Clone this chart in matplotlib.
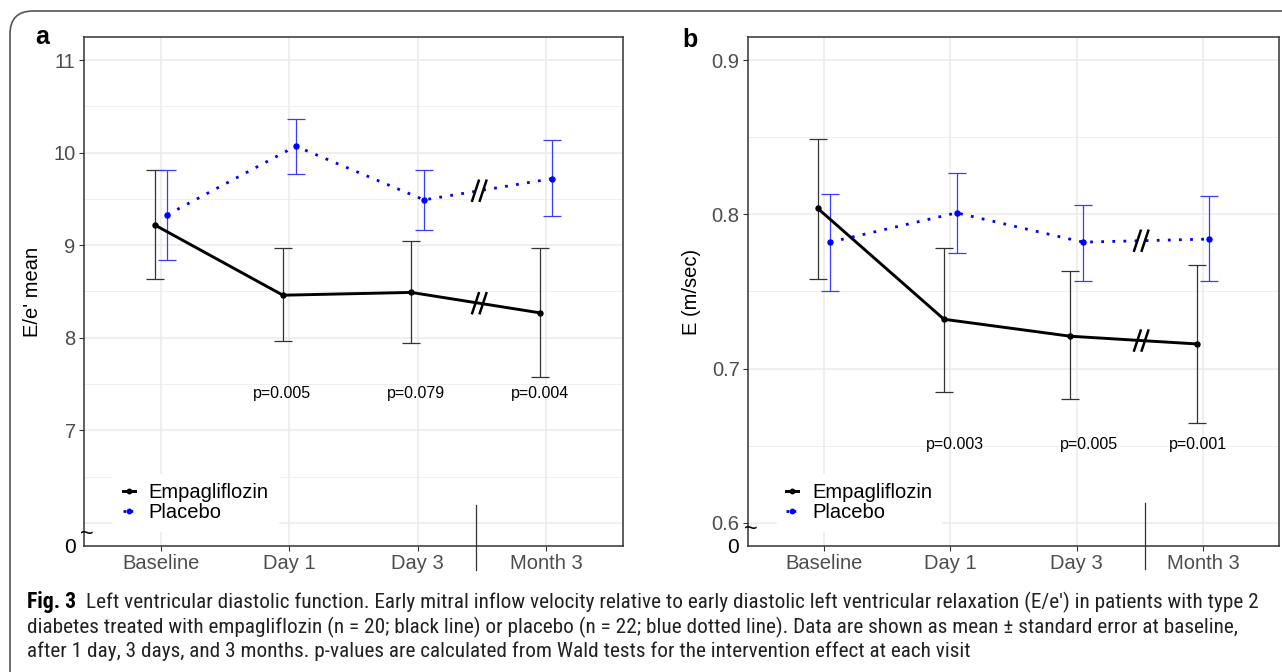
import matplotlib
matplotlib.use('Agg')
import matplotlib.pyplot as plt
import matplotlib.transforms as mtrans
from matplotlib import font_manager as fm
from matplotlib.lines import Line2D
from matplotlib.patches import FancyBboxPatch
import numpy as np

# ---------------- data ----------------
categories = ['Baseline', 'Day 1', 'Day 3', 'Month 3']

ee_empa_mean = [9.22, 8.46, 8.49, 8.27]
ee_empa_lo = [8.64, 7.96, 7.94, 7.58]
ee_empa_hi = [9.81, 8.97, 9.05, 8.97]
ee_plac_mean = [9.33, 10.07, 9.49, 9.72]
ee_plac_lo = [8.84, 9.77, 9.16, 9.32]
ee_plac_hi = [9.81, 10.36, 9.81, 10.14]
ee_pvalues = ['p=0.005', 'p=0.079', 'p=0.004']
ee_p_x = [1.94, 2.99, 3.95]
ee_p_y = 7.40
ee_ytick_vals = [7, 8, 9, 10, 11]
ee_ytick_labels = ['7', '8', '9', '10', '11']

e_empa_mean = [0.804, 0.732, 0.721, 0.716]
e_empa_lo = [0.758, 0.685, 0.680, 0.665]
e_empa_hi = [0.849, 0.778, 0.763, 0.767]
e_plac_mean = [0.782, 0.801, 0.782, 0.784]
e_plac_lo = [0.750, 0.775, 0.757, 0.757]
e_plac_hi = [0.813, 0.827, 0.806, 0.812]
e_pvalues = ['p=0.003', 'p=0.005', 'p=0.001']
e_p_x = [2.04, 3.10, 3.96]
e_p_y = 0.651
e_ytick_vals = [0.6, 0.7, 0.8, 0.9]
e_ytick_labels = ['0.6', '0.7', '0.8', '0.9']

series_names = ['Empagliflozin', 'Placebo']

caption_bold = 'Fig. 3'
caption_lines = [
    'Left ventricular diastolic function. Early mitral inflow velocity relative to early diastolic left ventricular relaxation (E/e\u2032) in patients with type 2',
    'diabetes treated with empagliflozin (n = 20; black line) or placebo (n = 22; blue dotted line). Data are shown as mean \u00b1 standard error at baseline,',
    'after 1 day, 3 days, and 3 months. p-values are calculated from Wald tests for the intervention effect at each visit',
]

# ---------------- style ----------------
W, H = 1282, 672
DPI = 100
plt.rcParams['font.family'] = ['Liberation Sans', 'DejaVu Sans']
fig = plt.figure(figsize=(W / DPI, H / DPI), dpi=DPI)
fig.patch.set_facecolor('white')

GRID = '#ebebeb'
TICKC = '#4d4d4d'
BLUE = '#0000ff'
EBLUE = '#3b3bff'
EGRAY = '#333333'
DODGE = 0.05


def px_axes(left, right, top, bottom):
    return [left / W, (H - bottom) / H, (right - left) / W, (bottom - top) / H]


def pick_condensed(bold):
    prefs = ['liberationsansnarrow', 'robotocondensed', 'opensanscondensed',
             'opensans_condensed', 'notosans-condensed', 'notosanscondensed',
             'dejavusanscondensed']
    best = None
    for f in fm.fontManager.ttflist:
        fn = f.fname.replace('\\', '/').split('/')[-1].lower()
        key = fn.replace(' ', '')
        if 'italic' in key or 'oblique' in key or 'mono' in key or 'serif' in key:
            continue
        if 'semicondensed' in key or 'extracondensed' in key or 'ultracondensed' in key:
            continue
        for rank, p in enumerate(prefs):
            if key.startswith(p):
                try:
                    w = int(f.weight)
                except Exception:
                    w = 700 if 'bold' in str(f.weight).lower() else 400
                isbold = w >= 600 or 'bold' in key
                if 'light' in key or 'medium' in key or 'black' in key or 'thin' in key:
                    continue
                if isbold != bold:
                    continue
                if best is None or rank < best[0]:
                    best = (rank, f.fname)
    if best is None:
        return fm.FontProperties(family='Liberation Sans',
                                 weight='bold' if bold else 'normal')
    return fm.FontProperties(fname=best[1])


def draw_panel(ax, empa_m, empa_lo, empa_hi, plac_m, plac_lo, plac_hi,
               ylim_core, major, minor, ytick_vals, ytick_labels,
               pvals, p_x, p_y, ylabel, break_x, vline_x, vline_rng,
               tilde_y, zero_x, leg_x):
    x = np.arange(1, len(categories) + 1)
    lo, hi = ylim_core
    pad = (hi - lo) * 0.05
    ax.set_xlim(0.4, 4.6)
    ax.set_ylim(lo - pad, hi + pad)

    for g in minor:
        ax.axhline(g, color=GRID, lw=0.55, zorder=0)
    for g in major:
        ax.axhline(g, color=GRID, lw=1.1, zorder=0)
    for xv in x:
        ax.axvline(xv, color=GRID, lw=1.1, zorder=0)

    xe = x - DODGE
    xp = x + DODGE
    em = np.array(empa_m)
    pm = np.array(plac_m)
    ax.errorbar(xe, em, yerr=[em - np.array(empa_lo), np.array(empa_hi) - em],
                fmt='none', ecolor=EGRAY, elinewidth=0.9, capsize=6.5,
                capthick=0.9, zorder=2)
    ax.errorbar(xp, pm, yerr=[pm - np.array(plac_lo), np.array(plac_hi) - pm],
                fmt='none', ecolor=EBLUE, elinewidth=0.9, capsize=6.5,
                capthick=0.9, zorder=2)
    ax.plot(xe, em, color='black', lw=2.1, marker='o', ms=3.6, zorder=3,
            solid_capstyle='round')
    ax.plot(xp, pm, color=BLUE, lw=2.0, ls=(0, (1, 3)), marker='o', ms=3.6,
            zorder=3)

    # break marks "//" on both lines
    for xs, ys in ((xe, em), (xp, pm)):
        yb = np.interp(break_x, xs[2:4], ys[2:4])
        t = mtrans.ScaledTranslation(break_x, yb, ax.transData)
        for dx in (-3.8, 3.8):
            ln = Line2D([dx - 3.3, dx + 3.3], [-10, 10], color='black', lw=1.8,
                        transform=t, clip_on=False, zorder=5)
            ax.add_line(ln)

    # vertical separator
    bt = mtrans.blended_transform_factory(ax.transData, ax.transAxes)
    ax.add_line(Line2D([vline_x, vline_x], vline_rng, color='#333333', lw=0.9,
                       transform=bt, clip_on=False, zorder=5))

    for txt, px in zip(pvals, p_x):
        ax.text(px, p_y, txt, ha='center', va='center', fontsize=11.5,
                color='black', zorder=4)

    ax.set_xticks(x)
    ax.set_xticklabels(categories)
    ax.set_yticks(ytick_vals)
    ax.set_yticklabels(ytick_labels)
    ax.tick_params(axis='both', colors='#333333', labelcolor=TICKC,
                   labelsize=14.5, length=3.5, width=0.8, pad=2.5)
    for s in ax.spines.values():
        s.set_color('#333333')
        s.set_linewidth(1.1)
    ax.set_ylabel(ylabel, fontsize=14.5, color='black', labelpad=8)

    # fake "0" and break tilde on the y axis
    ax.text(zero_x, -0.002, '0', transform=ax.transAxes, ha='center',
            va='center', fontsize=15, color='black', clip_on=False)
    ax.text(0.006, tilde_y, '~', transform=ax.transAxes, ha='center',
            va='center', fontsize=17, color='black', clip_on=False)

    handles = [
        Line2D([], [], color='black', lw=2.1, marker='o', ms=3.2),
        Line2D([], [], color=BLUE, lw=2.0, ls=(0, (1, 1.5)), marker='o', ms=3.2),
    ]
    leg = ax.legend(handles, series_names, loc='lower left',
                    bbox_to_anchor=(leg_x, 0.010), fontsize=14.5,
                    handlelength=0.6, handletextpad=0.7, labelspacing=0.05,
                    borderpad=0.45, frameon=True, fancybox=False,
                    edgecolor='white', framealpha=1.0, facecolor='white')
    leg.set_zorder(6)


ax_a = fig.add_axes(px_axes(84, 623, 37, 546))
ax_b = fig.add_axes(px_axes(748, 1279, 37, 546))

draw_panel(ax_a, ee_empa_mean, ee_empa_lo, ee_empa_hi,
           ee_plac_mean, ee_plac_lo, ee_plac_hi,
           (6, 11), [6, 7, 8, 9, 10, 11], [6.5, 7.5, 8.5, 9.5, 10.5],
           ee_ytick_vals, ee_ytick_labels, ee_pvalues, ee_p_x, ee_p_y,
           "E/e' mean", 3.48, 3.455, (0.0806, -0.047), 0.022, -0.026, 0.036)

draw_panel(ax_b, e_empa_mean, e_empa_lo, e_empa_hi,
           e_plac_mean, e_plac_lo, e_plac_hi,
           (0.6, 0.9), [0.6, 0.7, 0.8, 0.9], [0.65, 0.75, 0.85],
           e_ytick_vals, e_ytick_labels, e_pvalues, e_p_x, e_p_y,
           'E (m/sec)', 3.51, 3.54, (0.0845, -0.045), 0.031, -0.028, 0.036)

# panel letters
fig.text(42 / W, 1 - 37 / H, 'a', fontsize=18, fontweight='bold', ha='center', va='center')
fig.text(690 / W, 1 - 40 / H, 'b', fontsize=18, fontweight='bold', ha='center', va='center')

# rounded outer frame (right and bottom edges off-canvas)
frame = FancyBboxPatch((10 / W, -0.2), 1.3, (H - 11) / H + 0.2,
                       boxstyle='round,pad=0,rounding_size=0.018',
                       transform=fig.transFigure, fill=False,
                       edgecolor='#555555', lw=1.2, mutation_aspect=W / H)
fig.add_artist(frame)

# caption: fit font size so the lines span the same width as the reference
fp_reg = pick_condensed(False)
fp_bold = pick_condensed(True)
renderer = fig.canvas.get_renderer()


def text_w(s, fp, fs):
    t = fig.text(0, 0, s, fontproperties=fp, fontsize=fs)
    w = t.get_window_extent(renderer).width
    t.remove()
    return w


base = 12.0
w_bold = text_w(caption_bold, fp_bold, base * 1.02)
w1 = text_w(caption_lines[0], fp_reg, base)
w2 = text_w(caption_lines[1], fp_reg, base)
gap_ratio = 11.0 / base
scale1 = 1233.0 / (w_bold + w1 + 11.0)
scale2 = 1236.0 / w2
cap_fs = base * min(scale1, scale2)

fb = fig.text(27 / W, 1 - 602 / H, caption_bold, fontproperties=fp_bold,
              fontsize=cap_fs * 1.02, ha='left', va='center')
fbw = fb.get_window_extent(renderer).x1
fig.text((fbw + 10) / W, 1 - 602 / H, caption_lines[0], fontproperties=fp_reg,
         fontsize=cap_fs, ha='left', va='center', color='#222222')
fig.text(27 / W, 1 - 627 / H, caption_lines[1], fontproperties=fp_reg,
         fontsize=cap_fs, ha='left', va='center', color='#222222')
fig.text(27 / W, 1 - 651 / H, caption_lines[2], fontproperties=fp_reg,
         fontsize=cap_fs, ha='left', va='center', color='#222222')

fig.savefig('out.png', dpi=DPI, facecolor='white')
